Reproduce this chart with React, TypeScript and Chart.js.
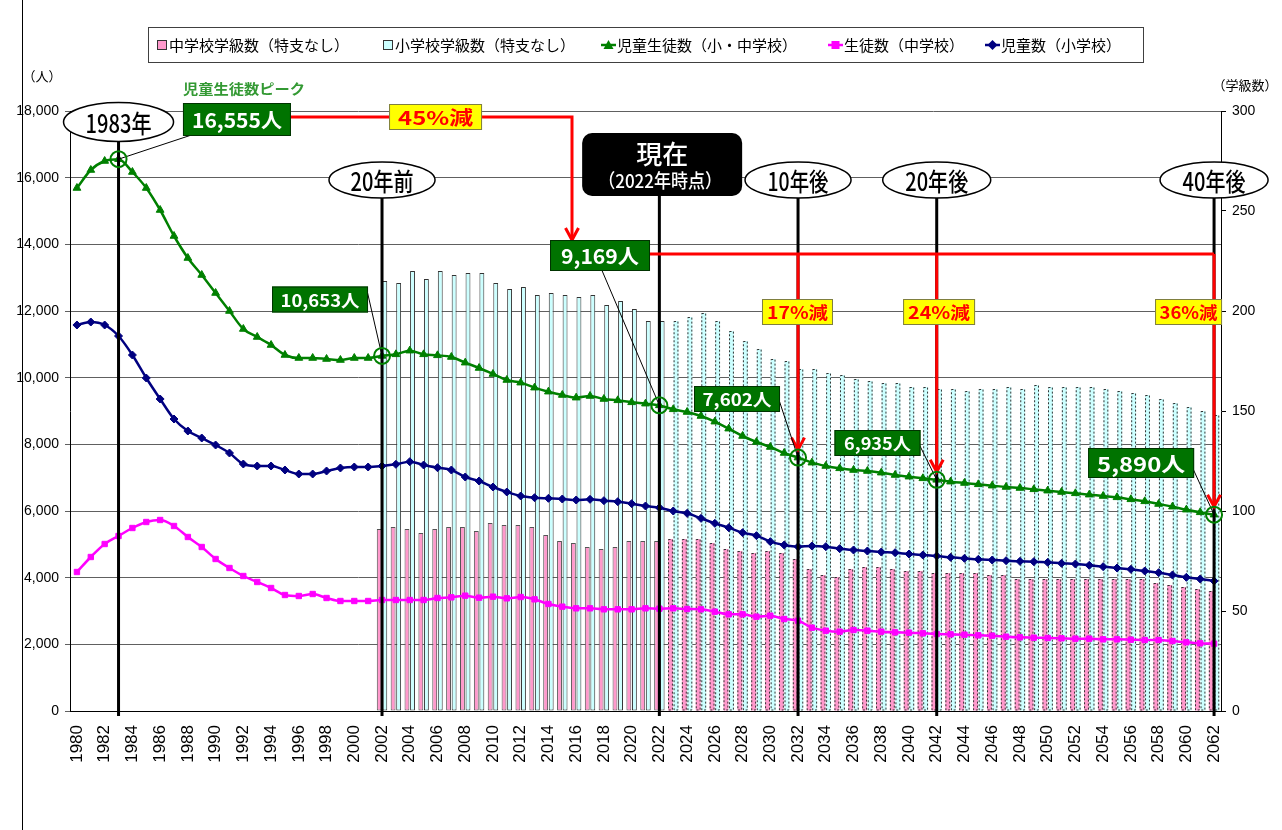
import React, { useEffect, useRef } from 'react';
import { Chart, registerables } from 'chart.js';

Chart.register(...registerables);

// ---------- data ----------
const years = [
  '1980','1981','1982','1983','1984','1985','1986','1987','1988','1989',
  '1990','1991','1992','1993','1994','1995','1996','1997','1998','1999',
  '2000','2001','2002','2003','2004','2005','2006','2007','2008','2009',
  '2010','2011','2012','2013','2014','2015','2016','2017','2018','2019',
  '2020','2021','2022','2023','2024','2025','2026','2027','2028','2029',
  '2030','2031','2032','2033','2034','2035','2036','2037','2038','2039',
  '2040','2041','2042','2043','2044','2045','2046','2047','2048','2049',
  '2050','2051','2052','2053','2054','2055','2056','2057','2058','2059',
  '2060','2061','2062',
];

// 児童生徒数（小・中学校） 1980-2062
const totalStudents = [
  15690, 16230, 16500, 16555, 16170, 15690, 15030, 14250, 13590, 13080,
  12540, 12000, 11460, 11220, 10980, 10680, 10590, 10590, 10560, 10530,
  10590, 10590, 10653, 10700, 10810, 10700, 10670, 10620, 10450, 10290,
  10110, 9930, 9850, 9700, 9580, 9480, 9400, 9450, 9360, 9320,
  9260, 9220, 9169, 9050, 8970, 8850, 8680, 8470, 8250, 8070,
  7920, 7740, 7602, 7450, 7350, 7280, 7230, 7200, 7150, 7080,
  7030, 6980, 6935, 6880, 6840, 6800, 6760, 6720, 6690, 6650,
  6610, 6570, 6530, 6490, 6450, 6410, 6350, 6290, 6210, 6130,
  6040, 5960, 5890,
];

// 生徒数（中学校） 1980-2062
const juniorStudents = [
  4170, 4620, 5010, 5250, 5490, 5670, 5730, 5550, 5220, 4920,
  4560, 4290, 4050, 3870, 3690, 3480, 3450, 3510, 3390, 3300,
  3300, 3300, 3330, 3330, 3330, 3330, 3390, 3410, 3460, 3400,
  3430, 3380, 3420, 3350, 3210, 3130, 3080, 3080, 3050, 3050,
  3050, 3080, 3070, 3080, 3060, 3050, 2980, 2900, 2900, 2830,
  2860, 2760, 2710, 2500, 2410, 2380, 2430, 2410, 2380, 2360,
  2350, 2330, 2310, 2300, 2290, 2270, 2260, 2230, 2210, 2200,
  2190, 2180, 2170, 2170, 2150, 2150, 2140, 2130, 2130, 2100,
  2060, 2030, 2020,
];

// 児童数（小学校） 1980-2062
const elementaryStudents = [
  11580, 11670, 11580, 11250, 10680, 9990, 9360, 8760, 8400, 8190,
  7980, 7740, 7410, 7350, 7350, 7230, 7110, 7110, 7200, 7290,
  7320, 7320, 7350, 7400, 7480, 7380, 7300, 7230, 7020, 6900,
  6720, 6570, 6450, 6400, 6380, 6360, 6330, 6350, 6310, 6280,
  6220, 6150, 6100, 6000, 5930, 5780, 5630, 5500, 5350, 5260,
  5080, 4980, 4930, 4950, 4930, 4870, 4830, 4800, 4770, 4750,
  4710, 4680, 4650, 4610, 4580, 4550, 4530, 4510, 4490, 4480,
  4460, 4430, 4410, 4370, 4330, 4290, 4250, 4200, 4150, 4080,
  4010, 3960, 3900,
];

// 学級数 2002-2062
const classYearsStart = '2002';
const juniorClasses = [
  91, 92, 91, 89, 91, 92, 92, 90, 94, 93,
  93, 92, 88, 85, 84, 82, 81, 82, 85, 85,
  85, 86, 86, 86, 84, 81, 80, 79, 80, 79,
  76, 71, 68, 67, 71, 72, 72, 71, 70, 70,
  69, 69, 69, 69, 68, 68, 66, 66, 66, 66,
  66, 66, 66, 66, 66, 66, 64, 63, 62, 61,
  60,
];
const elementaryClasses = [
  215, 214, 220, 216, 220, 218, 219, 219, 214, 211,
  212, 208, 209, 208, 207, 208, 203, 205, 201, 195,
  195, 195, 197, 199, 195, 190, 185, 181, 176, 175,
  171, 171, 169, 168, 166, 165, 164, 164, 162, 162,
  161, 161, 160, 161, 161, 162, 161, 163, 162, 162,
  162, 162, 161, 160, 159, 158, 156, 154, 152, 150,
  148,
];
const currentYear = '2022';

const leftTicks = { min: 0, max: 18000, step: 2000 };
const rightTicks = { min: 0, max: 300, step: 50 };

// annotations (positions given in year / value coordinates)
const eventMarks = [
  { year: 1983, v: 17670, text: '1983年', rx: 55, ry: 19.5, tw: 66 },
  { year: 2002, v: 15930, text: '20年前', rx: 53, ry: 18, tw: 63 },
  { year: 2032, v: 15930, text: '10年後', rx: 53, ry: 18, tw: 61 },
  { year: 2042, v: 15930, text: '20年後', rx: 54, ry: 18, tw: 63 },
  { year: 2062, v: 15930, text: '40年後', rx: 54, ry: 18, tw: 63 },
];
const nowBox = { year: 2022.2, v: 16395, w: 160, h: 63, line1: '現在', line2: '（2022年時点）' };
const valueBoxes = [
  { text: '16,555人', year: 1991.54, v: 17745, w: 108, h: 33, tw: 90, size: 20, link: 1983, ox: -47, oy: 16 },
  { text: '10,653人', year: 1997.53, v: 12345, w: 96, h: 26, tw: 79, size: 17, link: 2002, ox: 47, oy: -9 },
  { text: '9,169人', year: 2017.72, v: 13665, w: 100, h: 31, tw: 78, size: 20, link: 2022, ox: 2, oy: 15 },
  { text: '7,602人', year: 2027.6, v: 9360, w: 86, h: 26, tw: 69, size: 17, link: 2032, ox: 42, oy: 1 },
  { text: '6,935人', year: 2037.73, v: 8040, w: 86, h: 26, tw: 67, size: 17, link: 2042, ox: 42, oy: 2 },
  { text: '5,890人', year: 2056.74, v: 7440, w: 106, h: 30, tw: 88, size: 20, link: 2062, ox: 52, oy: 6 },
];
const decreaseBoxes = [
  { text: '45%減', year: 2005.86, v: 17820, w: 93, h: 26, tw: 75, size: 19 },
  { text: '17%減', year: 2031.96, v: 11970, w: 71, h: 26, tw: 61, size: 17 },
  { text: '24%減', year: 2042.17, v: 11970, w: 72, h: 26, tw: 62, size: 17 },
  { text: '36%減', year: 2060.16, v: 11970, w: 67, h: 26, tw: 58, size: 17 },
];
const arrow1 = { fromYear: 1991.54, v: 17820, turnYear: 2015.7 };
const arrow2 = { v: 13710, drops: [2032, 2042, 2062] };

const legendItems = [
  { kind: 'box', color: '#FF99CC', text: '中学校学級数（特支なし）', x: 157 },
  { kind: 'box', color: '#CCFFFF', text: '小学校学級数（特支なし）', x: 383 },
  { kind: 'line', color: '#008000', marker: 'triangle', text: '児童生徒数（小・中学校）', x: 601 },
  { kind: 'line', color: '#FF00FF', marker: 'rect', text: '生徒数（中学校）', x: 828 },
  { kind: 'line', color: '#000080', marker: 'diamond', text: '児童数（小学校）', x: 985 },
];

// ---------- helpers ----------
const JP = '"Noto Sans CJK JP", "Noto Sans", sans-serif';
const NUM = '"Liberation Sans", Arial, sans-serif';

const firstClassIdx = years.indexOf(classYearsStart);
const projStart = years.indexOf(currentYear) + 1;
const pad = (arr: number[]) => years.map((_, i) => (i >= firstClassIdx ? arr[i - firstClassIdx] : null));

function fitText(ctx: CanvasRenderingContext2D, text: string, cx: number, cy: number, font: string, target: number, color: string) {
  ctx.save();
  ctx.font = font;
  ctx.fillStyle = color;
  ctx.textAlign = 'center';
  ctx.textBaseline = 'middle';
  const w = ctx.measureText(text).width;
  const s = target / w;
  ctx.translate(cx, cy);
  ctx.scale(s, 1);
  ctx.fillText(text, 0, 0);
  ctx.restore();
}

function vArrow(ctx: CanvasRenderingContext2D, x: number, tip: number) {
  ctx.beginPath();
  ctx.moveTo(x - 6.5, tip - 12);
  ctx.lineTo(x, tip);
  ctx.lineTo(x + 6.5, tip - 12);
  ctx.stroke();
}

function marker(ctx: CanvasRenderingContext2D, kind: string, x: number, y: number, color: string) {
  ctx.fillStyle = color;
  ctx.beginPath();
  if (kind === 'triangle') {
    ctx.moveTo(x, y - 5); ctx.lineTo(x + 5, y + 4); ctx.lineTo(x - 5, y + 4);
  } else if (kind === 'rect') {
    ctx.rect(x - 4, y - 4, 8, 8);
  } else {
    ctx.moveTo(x, y - 5); ctx.lineTo(x + 5, y); ctx.lineTo(x, y + 5); ctx.lineTo(x - 5, y);
  }
  ctx.closePath();
  ctx.fill();
}

const overlay = {
  id: 'overlay',
  afterDatasetDraw(chart: any, args: any) {
    const meta = args.meta;
    if (meta.type !== 'bar') return;
    const ctx: CanvasRenderingContext2D = chart.ctx;
    const data = chart.data.datasets[args.index].data;
    ctx.save();
    ctx.strokeStyle = '#333';
    ctx.lineWidth = 1;
    ctx.setLineDash([2, 2]);
    meta.data.forEach((el: any, i: number) => {
      if (i < projStart || data[i] == null) return;
      ctx.strokeRect(el.x - el.width / 2 + 0.5, el.y + 0.5, el.width - 1, el.base - el.y - 1);
    });
    ctx.restore();
  },
  afterDraw(chart: any) {
    const ctx: CanvasRenderingContext2D = chart.ctx;
    const xs = chart.scales.x;
    const ys = chart.scales.y;
    const area = chart.chartArea;
    const X = (yr: number) => xs.getPixelForValue(yr - 1980);
    const Y = (v: number) => ys.getPixelForValue(v);
    const g = chart.getDatasetMeta(0).data;
    const P = (yr: number) => g[yr - 1980];
    const y0 = Y(0);

    ctx.save();
    // frame
    ctx.strokeStyle = '#000';
    ctx.lineWidth = 1;
    ctx.beginPath();
    ctx.moveTo(22.5, 0);
    ctx.lineTo(22.5, chart.height);
    ctx.stroke();

    // thick vertical event lines
    ctx.lineWidth = 3;
    ctx.strokeStyle = '#000';
    [...eventMarks.map((e) => ({ yr: e.year, top: Y(e.v) })), { yr: 2022, top: Y(nowBox.v) }].forEach((e) => {
      ctx.beginPath();
      ctx.moveTo(X(e.yr), e.top);
      ctx.lineTo(X(e.yr), y0 + 5);
      ctx.stroke();
    });

    // red arrows
    ctx.strokeStyle = '#FF0000';
    ctx.lineWidth = 3;
    ctx.lineJoin = 'miter';
    const b1 = valueBoxes[0];
    const b2 = valueBoxes[2];
    const r1y = Y(arrow1.v);
    const tip1 = Y(b2.v) - b2.h / 2;
    ctx.beginPath();
    ctx.moveTo(X(b1.year) + b1.w / 2, r1y);
    ctx.lineTo(X(arrow1.turnYear), r1y);
    ctx.lineTo(X(arrow1.turnYear), tip1 - 1);
    ctx.stroke();
    vArrow(ctx, X(arrow1.turnYear), tip1);
    const r2y = Y(arrow2.v);
    ctx.beginPath();
    ctx.moveTo(X(b2.year) + b2.w / 2, r2y);
    ctx.lineTo(X(arrow2.drops[arrow2.drops.length - 1]), r2y);
    ctx.stroke();
    arrow2.drops.forEach((yr) => {
      const tip = P(yr).y - 8;
      ctx.beginPath();
      ctx.moveTo(X(yr), r2y);
      ctx.lineTo(X(yr), tip - 1);
      ctx.stroke();
      vArrow(ctx, X(yr), tip);
    });

    // yellow decrease boxes
    decreaseBoxes.forEach((b) => {
      const cx = X(b.year), cy = Y(b.v);
      ctx.fillStyle = '#FFFF00';
      ctx.fillRect(cx - b.w / 2, cy - b.h / 2, b.w, b.h);
      ctx.strokeStyle = '#7F7F3F';
      ctx.lineWidth = 1;
      ctx.strokeRect(cx - b.w / 2 + 0.5, cy - b.h / 2 + 0.5, b.w - 1, b.h - 1);
      fitText(ctx, b.text, cx, cy + 1, `bold ${b.size}px ${JP}`, b.tw, '#FF0000');
    });

    // connectors + green value boxes
    valueBoxes.forEach((b) => {
      const cx = X(b.year), cy = Y(b.v);
      const p = P(b.link);
      ctx.strokeStyle = '#000';
      ctx.lineWidth = 1;
      ctx.beginPath();
      ctx.moveTo(cx + b.ox, cy + b.oy);
      ctx.lineTo(p.x, p.y);
      ctx.stroke();
      ctx.fillStyle = '#007300';
      ctx.fillRect(cx - b.w / 2, cy - b.h / 2, b.w, b.h);
      ctx.strokeStyle = '#003300';
      ctx.strokeRect(cx - b.w / 2 + 0.5, cy - b.h / 2 + 0.5, b.w - 1, b.h - 1);
      fitText(ctx, b.text, cx, cy + 1, `bold ${b.size}px ${JP}`, b.tw, '#FFFFFF');
    });

    // peak caption
    fitText(ctx, '児童生徒数ピーク', X(valueBoxes[0].year) + 7, Y(18660), `bold 14px ${JP}`, 122, '#339933');

    // ellipses
    eventMarks.forEach((e) => {
      const cx = X(e.year), cy = Y(e.v);
      ctx.beginPath();
      ctx.ellipse(cx, cy, e.rx, e.ry, 0, 0, Math.PI * 2);
      ctx.fillStyle = '#FFFFFF';
      ctx.fill();
      ctx.strokeStyle = '#000';
      ctx.lineWidth = 1.5;
      ctx.stroke();
      fitText(ctx, e.text, cx, cy + 1, `500 25px ${JP}`, e.tw, '#000');
    });

    // "現在" box
    {
      const cx = X(nowBox.year), cy = Y(nowBox.v);
      const x0 = cx - nowBox.w / 2, yT = cy - nowBox.h / 2;
      ctx.fillStyle = '#000';
      ctx.beginPath();
      (ctx as any).roundRect(x0, yT, nowBox.w, nowBox.h, 10);
      ctx.fill();
      fitText(ctx, nowBox.line1, cx, yT + 21, `500 26px ${JP}`, 52, '#FFFFFF');
      fitText(ctx, nowBox.line2, cx - 2, yT + 48, `500 19px ${JP}`, 124, '#FFFFFF');
    }

    // green circles
    ctx.strokeStyle = '#008000';
    ctx.lineWidth = 2;
    [1983, 2002, 2022, 2032, 2042, 2062].forEach((yr) => {
      const p = P(yr);
      ctx.beginPath();
      ctx.arc(p.x, p.y, 8, 0, Math.PI * 2);
      ctx.stroke();
    });

    // unit labels
    ctx.fillStyle = '#000';
    ctx.font = `13px ${JP}`;
    ctx.textAlign = 'center';
    ctx.textBaseline = 'middle';
    ctx.fillText('（人）', area.left - 28, area.top - 35);
    ctx.fillText('（学級数）', area.right + 24, area.top - 26);

    // legend
    ctx.fillStyle = '#FFFFFF';
    ctx.fillRect(148, 27, 995, 35);
    ctx.strokeStyle = '#404040';
    ctx.lineWidth = 1;
    ctx.strokeRect(148.5, 27.5, 995, 35);
    const ly = 45;
    legendItems.forEach((it) => {
      let tx;
      if (it.kind === 'box') {
        ctx.fillStyle = it.color;
        ctx.fillRect(it.x, ly - 5, 10, 10);
        ctx.strokeStyle = '#333';
        ctx.strokeRect(it.x + 0.5, ly - 4.5, 9, 9);
        tx = it.x + 12;
      } else {
        ctx.strokeStyle = it.color;
        ctx.lineWidth = 2.5;
        ctx.beginPath();
        ctx.moveTo(it.x, ly);
        ctx.lineTo(it.x + 15, ly);
        ctx.stroke();
        ctx.lineWidth = 1;
        marker(ctx, it.marker as string, it.x + 7.5, ly, it.color);
        tx = it.x + 16;
      }
      ctx.fillStyle = '#000';
      ctx.font = `15px ${JP}`;
      ctx.textAlign = 'left';
      ctx.textBaseline = 'middle';
      ctx.fillText(it.text, tx, ly);
    });
    ctx.restore();
  },
};

export default function App() {
  const ref = useRef<HTMLCanvasElement>(null);
  useEffect(() => {
    document.body.style.margin = '0';
    document.body.style.overflow = 'hidden';
    const chart = new Chart(ref.current as HTMLCanvasElement, {
      type: 'bar',
      data: {
        labels: years,
        datasets: [
          {
            type: 'line', label: '児童生徒数（小・中学校）', data: totalStudents, yAxisID: 'y', order: 1,
            borderColor: '#008000', backgroundColor: '#008000', borderWidth: 2.5,
            pointStyle: 'triangle', pointRadius: 4.5, pointBorderWidth: 1, cubicInterpolationMode: 'monotone',
          } as any,
          {
            type: 'line', label: '生徒数（中学校）', data: juniorStudents, yAxisID: 'y', order: 2,
            borderColor: '#FF00FF', backgroundColor: '#FF00FF', borderWidth: 2.5,
            pointStyle: 'rect', pointRadius: 3.8, pointBorderWidth: 1, cubicInterpolationMode: 'monotone',
          } as any,
          {
            type: 'line', label: '児童数（小学校）', data: elementaryStudents, yAxisID: 'y', order: 3,
            borderColor: '#000080', backgroundColor: '#000080', borderWidth: 2.5,
            pointStyle: 'rectRot', pointRadius: 4, pointBorderWidth: 1, cubicInterpolationMode: 'monotone',
          } as any,
          {
            type: 'bar', label: '中学校学級数（特支なし）', data: pad(juniorClasses), yAxisID: 'y1', order: 10,
            backgroundColor: '#FF99CC', borderColor: '#555555', borderSkipped: false,
            borderWidth: (c: any) => (c.dataIndex < projStart ? 1 : 0),
            categoryPercentage: 0.8, barPercentage: 0.88,
          } as any,
          {
            type: 'bar', label: '小学校学級数（特支なし）', data: pad(elementaryClasses), yAxisID: 'y1', order: 10,
            backgroundColor: '#CCFFFF', borderColor: '#333333', borderSkipped: false,
            borderWidth: (c: any) => (c.dataIndex < projStart ? 1 : 0),
            categoryPercentage: 0.8, barPercentage: 0.88,
          } as any,
        ],
      },
      options: {
        animation: false,
        responsive: true,
        maintainAspectRatio: false,
        events: [],
        layout: { padding: { top: 111, left: 0, right: 0, bottom: 0 } },
        plugins: { legend: { display: false }, tooltip: { enabled: false }, title: { display: false } },
        scales: {
          x: {
            grid: { display: false },
            border: { display: true, color: '#000', width: 1 },
            ticks: {
              autoSkip: false, minRotation: 90, maxRotation: 90, padding: 6, color: '#000',
              font: { family: NUM, size: 17 },
              callback: (_v: any, i: number) => (i % 2 === 0 ? years[i] : ''),
            },
            afterFit: (s: any) => { s.height = 119; },
          },
          y: {
            position: 'left', min: leftTicks.min, max: leftTicks.max,
            grid: { color: '#606060', lineWidth: 1, tickLength: 5 },
            border: { display: true, color: '#000', width: 1 },
            ticks: {
              stepSize: leftTicks.step, padding: 6, color: '#000', font: { family: NUM, size: 14 },
              callback: (v: any) => Number(v).toLocaleString('en-US'),
            },
            afterFit: (s: any) => { s.width = 70; },
          },
          y1: {
            position: 'right', min: rightTicks.min, max: rightTicks.max,
            grid: { drawOnChartArea: false, color: '#000', tickLength: 5 },
            border: { display: true, color: '#000', width: 1 },
            ticks: { stepSize: rightTicks.step, padding: 6, color: '#000', font: { family: NUM, size: 14 } },
            afterFit: (s: any) => { s.width = 61; },
          },
        },
      } as any,
      plugins: [overlay as any],
    });
    return () => chart.destroy();
  }, []);
  return (
    <div style={{ position: 'relative', width: 1282, height: 830, background: '#fff' }}>
      <canvas ref={ref} />
    </div>
  );
}
